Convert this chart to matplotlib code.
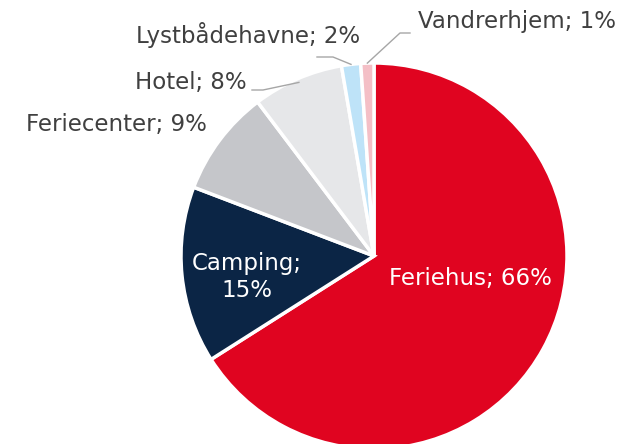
import numpy as np
import matplotlib.pyplot as plt

labels = ['Feriehus', 'Camping', 'Feriecenter', 'Hotel', 'Lystbådehavne', 'Vandrerhjem']
shares = [66.0, 14.8, 8.9, 7.6, 1.6, 1.1]
pct_text = ['66%', '15%', '9%', '8%', '2%', '1%']
colors = ['#E00420', '#0B2545', '#C5C6CA', '#E6E7E9', '#BEE3F8', '#F4BFC6']

fig = plt.figure(figsize=(6.26, 4.44), dpi=100)
ax = fig.add_axes([0, 0, 1, 1])

cx, cy, r = 374, 188, 193
wedges, _ = ax.pie(shares, colors=colors, startangle=90, counterclock=False,
                   center=(cx, cy), radius=r, frame=True,
                   wedgeprops=dict(edgecolor='white', linewidth=2.5))
ax.set_xlim(0, 626)
ax.set_ylim(0, 444)
ax.set_aspect('equal')
ax.axis('off')

txt = '#404040'
fs = 16.5
line_c = '#A6A6A6'

# inside labels
ax.text(470, 165, f'{labels[0]}; {pct_text[0]}', color='white', fontsize=fs,
        ha='center', va='center')
ax.text(247, 167, f'{labels[1]};\n{pct_text[1]}', color='white', fontsize=fs,
        ha='center', va='center', linespacing=1.2)

# outside labels
ax.text(116, 320, f'{labels[2]}; {pct_text[2]}', color=txt, fontsize=fs,
        ha='center', va='center')
ax.text(191, 362, f'{labels[3]}; {pct_text[3]}', color=txt, fontsize=fs,
        ha='center', va='center')
ax.text(248, 409, f'{labels[4]}; {pct_text[4]}', color=txt, fontsize=fs,
        ha='center', va='center')
ax.text(517, 422, f'{labels[5]}; {pct_text[5]}', color=txt, fontsize=fs,
        ha='center', va='center')


def edge_point(w, k=1.0):
    ang = np.deg2rad((w.theta1 + w.theta2) / 2)
    return cx + r * k * np.cos(ang), cy + r * k * np.sin(ang)


# leader lines
x0, y0 = edge_point(wedges[3], 0.98)
ax.plot([x0, 263, 252], [y0, 354, 354], color=line_c, lw=1)
x0, y0 = edge_point(wedges[4], 1.0)
ax.plot([x0, 333, 317], [y0, 387, 387], color=line_c, lw=1)
x0, y0 = edge_point(wedges[5], 1.0)
ax.plot([x0, 400, 410], [y0, 411, 411], color=line_c, lw=1)

fig.savefig('out.png', dpi=100)
